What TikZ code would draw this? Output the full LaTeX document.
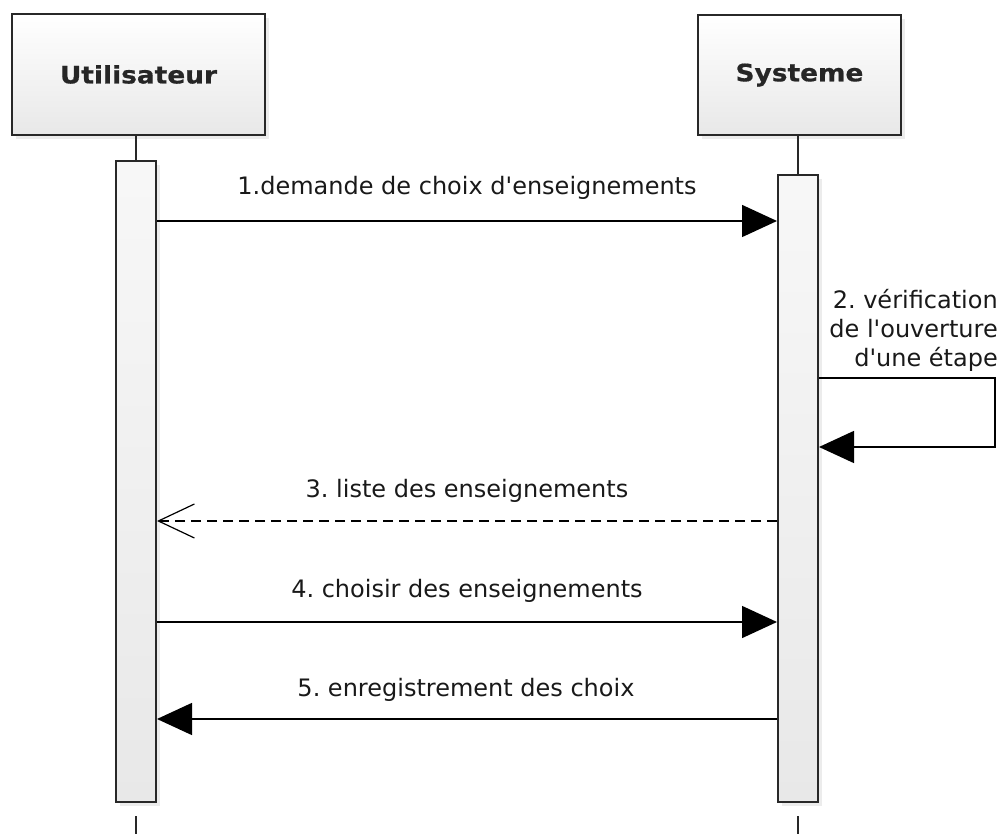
\documentclass[tikz,border=0pt]{standalone}
\usepackage{fontspec}
\setmainfont{DejaVu Sans}
\newfontfamily\titlefont[FakeStretch=1.1,FakeBold=0.6]{DejaVu Sans Bold}
\usetikzlibrary{arrows.meta,shadows}
\frenchspacing
\newcommand{\aq}{\textquotesingle}
\definecolor{boxline}{RGB}{40,40,40}
\definecolor{boxbot}{RGB}{232,232,232}
\tikzset{
  actor/.style={draw=boxline, line width=2pt, top color=white, bottom color=boxbot,
    drop shadow={opacity=0.15, shadow xshift=4pt, shadow yshift=-4pt},
    font=\titlefont\fontsize{24}{29}\selectfont, text=black!85, inner sep=0pt},
  activ/.style={draw=boxline, line width=2pt, top color=white!97!black, bottom color=boxbot,
    drop shadow={opacity=0.15, shadow xshift=4pt, shadow yshift=-4pt}, inner sep=0pt, minimum width=40pt},
  life/.style={draw=boxline, line width=1.5pt},
  msg/.style={draw=black, line width=1.5pt, -{Triangle[length=35pt,width=32pt]}},
  reply/.style={draw=black, line width=1.5pt, dash pattern=on 10pt off 6pt,
    -{Straight Barb[length=36pt,width=34pt,line width=1.2pt]}},
  lbl/.style={font=\fontsize{24}{29}\selectfont, inner sep=0pt, text=black!90}
}
\begin{document}
\begin{tikzpicture}[x=1pt,y=-1pt]
\useasboundingbox (0,0) rectangle (1005,834);
% actors
\node[actor, minimum width=253pt, minimum height=121pt] (uBox) at (138.5,74.5) {Utilisateur};
\node[actor, minimum width=203pt, minimum height=120pt] (sBox) at (799.5,75) {Systeme};
% activations
\node[activ, minimum height=641pt] (uA) at (136,481.5) {};
\node[activ, minimum height=627pt] (sA) at (798,488.5) {};
% lifelines
\coordinate (uLow) at (136,816);
\coordinate (uEnd) at (136,834);
\coordinate (sLow) at (798,816);
\coordinate (sEnd) at (798,834);
\draw[life] (uBox.south -| uA.north) -- (uA.north);
\draw[life] (sBox.south -| sA.north) -- (sA.north);
\draw[life] (uLow) -- (uEnd);
\draw[life] (sLow) -- (sEnd);
% message rows
\coordinate (m1) at (0,221);
\coordinate (m2a) at (0,378);
\coordinate (m2b) at (0,447);
\coordinate (m3) at (0,521);
\coordinate (m4) at (0,622);
\coordinate (m5) at (0,719);
\coordinate (selfR) at (995,0);
% 1
\draw[msg] (uA.east |- m1) -- (sA.west |- m1);
\node[lbl] (l1) at (467,188) {1.demande de choix d\aq enseignements};
% 2 self
\draw[msg] (sA.east |- m2a) -- (selfR |- m2a) -- (selfR |- m2b) -- (sA.east |- m2b);
\node[lbl, align=right, anchor=north east] (l2) at (998,289) {2. vérification\\de l\aq ouverture\\d\aq une étape};
% 3
\draw[reply] (sA.west |- m3) -- (uA.east |- m3);
\node[lbl] (l3) at (467,491) {3. liste des enseignements};
% 4
\draw[msg] (uA.east |- m4) -- (sA.west |- m4);
\node[lbl] (l4) at (467,591) {4. choisir des enseignements};
% 5
\draw[msg] (sA.west |- m5) -- (uA.east |- m5);
\node[lbl] (l5) at (466,690) {5. enregistrement des choix};
\end{tikzpicture}
\end{document}
